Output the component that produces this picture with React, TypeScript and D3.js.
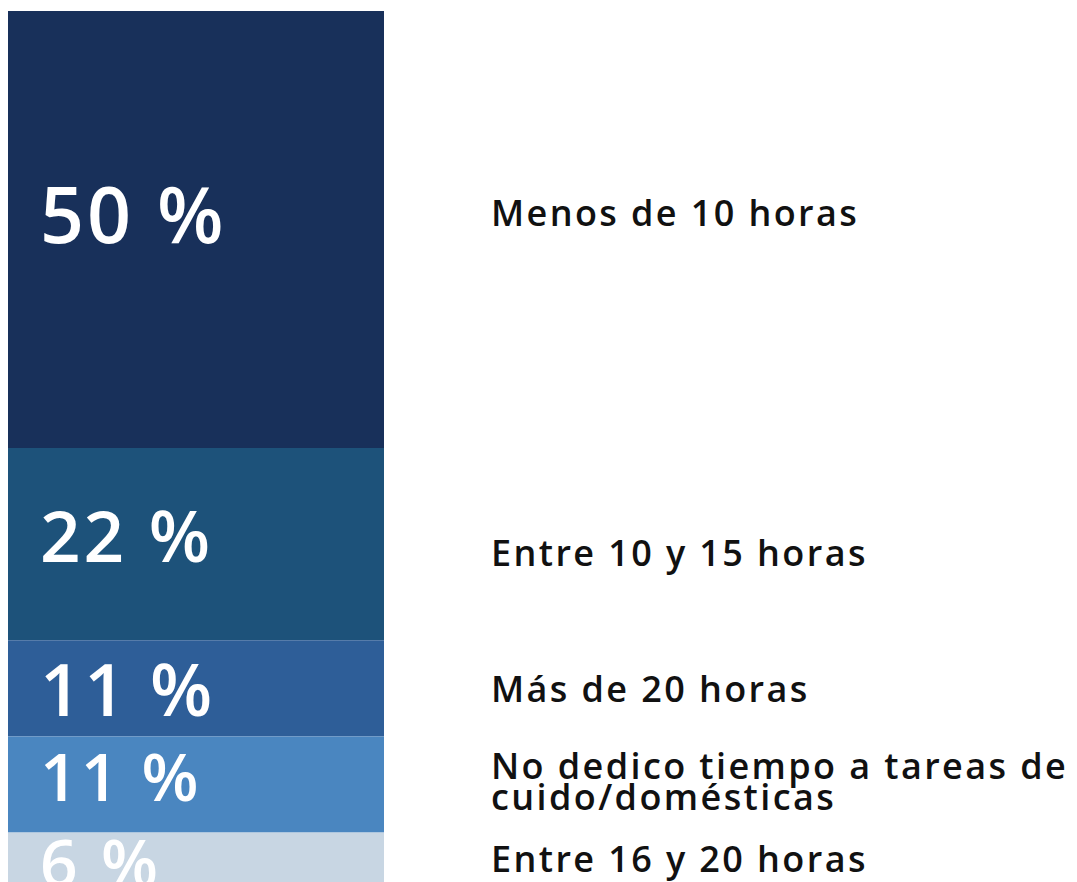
import React from "react";
import * as d3 from "d3";

const categories = [
  "Menos de 10 horas",
  "Entre 10 y 15 horas",
  "Más de 20 horas",
  "No dedico tiempo a tareas de cuido/domésticas",
  "Entre 16 y 20 horas",
];
const values = [50, 22, 11, 11, 6];
const labelLines = [
  ["Menos de 10 horas"],
  ["Entre 10 y 15 horas"],
  ["Más de 20 horas"],
  ["No dedico tiempo a tareas de", "cuido/domésticas"],
  ["Entre 16 y 20 horas"],
];

const colors = ["#18305A", "#1D527A", "#2E5E98", "#4A86C0", "#C8D6E3"];
const pctFontSize = [77, 71, 72, 66, 66];
const pctDy = [13.5, 18, 27.5, 17, 28];
const labelDy = [-3.5, 22, 13.5, -5.5, 13];

const W = 1077;
const H = 882;

export default function App() {
  const total = d3.sum(values);
  const y = d3.scaleLinear().domain([0, total]).range([11, 885]);
  const x0 = 8;
  const x1 = 384;
  const stacks = d3.cumsum(values);
  const segs = values.map((v, i) => ({
    v,
    i,
    y0: y(stacks[i] - v),
    y1: y(stacks[i]),
  }));
  const fontFam = "'Open Sans', Roboto, sans-serif";
  return (
    <svg
      width={W}
      height={H}
      style={{ position: "absolute", left: 0, top: 0 }}
    >
      <rect x={0} y={0} width={W} height={H} fill="#ffffff" />
      {segs.map((s) => (
        <rect
          key={"r" + s.i}
          x={x0}
          y={s.y0}
          width={x1 - x0}
          height={s.y1 - s.y0}
          fill={colors[s.i]}
        />
      ))}
      {segs.map((s) => (
        <text
          key={"p" + s.i}
          x={40}
          y={(s.y0 + s.y1) / 2 + pctDy[s.i]}
          fill="#ffffff"
          fontFamily={fontFam}
          fontWeight={600}
          fontSize={pctFontSize[s.i]}
          letterSpacing={3}
        >
          {s.v + " %"}
        </text>
      ))}
      {segs.map((s) => {
        const lines = labelLines[s.i];
        const base = (s.y0 + s.y1) / 2 + labelDy[s.i];
        const lh = 31;
        return (
          <text
            key={"l" + s.i}
            fill="#111111"
            fontFamily={fontFam}
            fontWeight={600}
            fontSize={36}
            letterSpacing={2.4}
          >
            {lines.map((ln, k) => (
              <tspan key={k} x={491} y={base + k * lh}>
                {ln}
              </tspan>
            ))}
          </text>
        );
      })}
    </svg>
  );
}
